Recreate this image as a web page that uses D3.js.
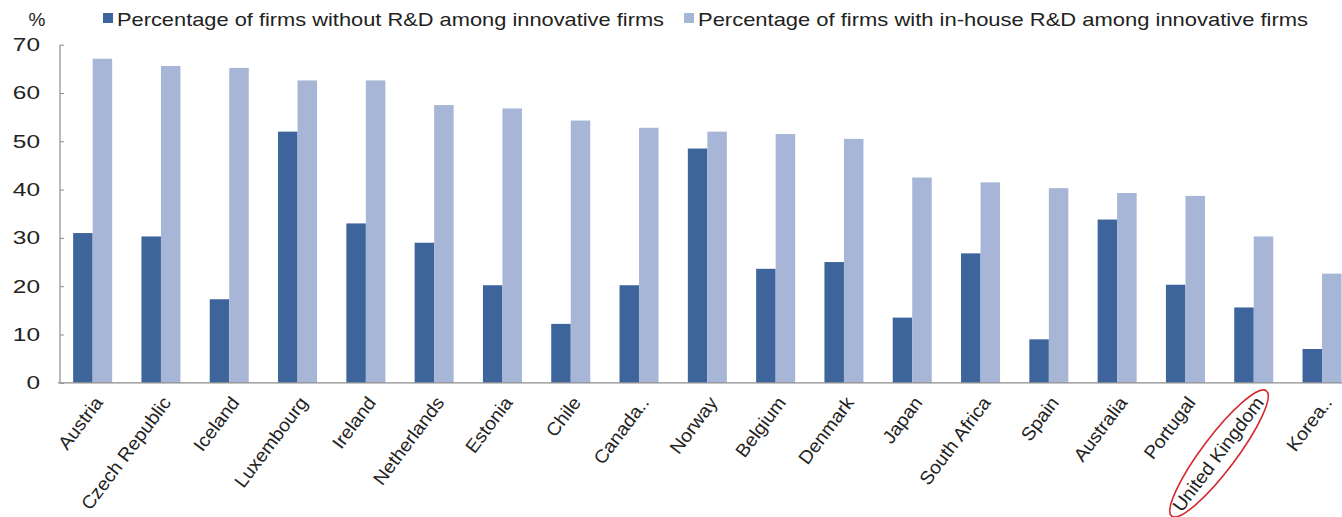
<!DOCTYPE html>
<html>
<head>
<meta charset="utf-8">
<script src="https://cdn.jsdelivr.net/npm/d3@7"></script>
<style>
  html, body { margin: 0; padding: 0; background: #fff; }
  svg { display: block; font-family: "Liberation Sans", Arial, sans-serif; }
</style>
</head>
<body>
<svg id="chart" width="1342" height="517"></svg>
<script>
// Innovative firms by R&D status, per country (%)
const categories = ["Austria", "Czech Republic", "Iceland", "Luxembourg", "Ireland", "Netherlands",
  "Estonia", "Chile", "Canada..", "Norway", "Belgium", "Denmark", "Japan", "South Africa",
  "Spain", "Australia", "Portugal", "United Kingdom", "Korea.."];
const withoutRD = [31.0, 30.3, 17.3, 52.0, 33.0, 29.0, 20.2, 12.2, 20.2, 48.5, 23.6, 25.0,
  13.5, 26.8, 9.0, 33.8, 20.3, 15.6, 7.0];
const inHouseRD = [67.1, 65.6, 65.2, 62.6, 62.6, 57.5, 56.8, 54.3, 52.8, 52.0, 51.5, 50.5,
  42.5, 41.5, 40.3, 39.3, 38.7, 30.3, 22.6];
const seriesNames = ["Percentage of firms without R&D among innovative firms",
  "Percentage of firms with in-house R&D among innovative firms"];
const yTicks = [0, 10, 20, 30, 40, 50, 60, 70];
const highlighted = "United Kingdom";

const colors = ["#3d659c", "#a7b6d7"];
const svg = d3.select("#chart");

const axisX = 60, baseY = 382.8, topY = 44.7, step = 68.3;
const x0 = d3.scaleBand().domain(categories)
  .range([58.5, 58.5 + step * categories.length]).padding(0);
const x1 = d3.scaleBand().domain([0, 1])
  .range([0, x0.bandwidth()]).paddingInner(0).paddingOuter(0.75);
const y = d3.scaleLinear().domain([0, 70]).range([baseY, topY]);

const rows = categories.map((c, i) => ({ c, v: [withoutRD[i], inHouseRD[i]] }));

// bars
const groups = svg.append("g").selectAll("g").data(rows).join("g")
  .attr("transform", d => `translate(${x0(d.c)},0)`);
groups.selectAll("rect").data(d => d.v.map((v, k) => ({ v, k }))).join("rect")
  .attr("x", d => x1(d.k))
  .attr("width", x1.bandwidth())
  .attr("y", d => y(d.v))
  .attr("height", d => y(0) - y(d.v))
  .attr("fill", d => colors[d.k]);

// y axis (ticks pointing into the plot)
const yAxis = svg.append("g").attr("transform", `translate(${axisX},0)`)
  .call(d3.axisLeft(y).tickValues(yTicks).tickSizeInner(-4).tickSizeOuter(0).tickPadding(21));
yAxis.select(".domain").attr("stroke", "#8c8c8c").attr("stroke-width", 1.2)
  .attr("d", `M0,${topY}V${baseY}`);
yAxis.selectAll(".tick line").attr("stroke", "#8c8c8c");
yAxis.selectAll(".tick text")
  .attr("font-size", 18.5).attr("fill", "#222")
  .attr("x", -20 / 1.32)
  .attr("transform", "scale(1.32,1)");

// x axis baseline
svg.append("line")
  .attr("x1", axisX - 2).attr("x2", 1342)
  .attr("y1", baseY).attr("y2", baseY)
  .attr("stroke", "#8c8c8c").attr("stroke-width", 1.2);

// category labels, rotated and slightly widened
const labelTransform = "translate(11,20) rotate(-53) scale(1.05,1)";
const xAxis = svg.append("g").attr("transform", `translate(0,${baseY})`)
  .call(d3.axisBottom(x0).tickSize(0).tickSizeOuter(0));
xAxis.select(".domain").remove();
const ticks = xAxis.selectAll(".tick");
ticks.select("text")
  .attr("x", 0).attr("y", 0).attr("dy", null)
  .attr("text-anchor", "end")
  .attr("font-size", 18.5).attr("fill", "#222")
  .attr("transform", labelTransform);

// ring around the highlighted country
ticks.filter(d => d === highlighted).each(function () {
  const t = d3.select(this).select("text");
  const L = t.node().getComputedTextLength();
  d3.select(this).append("ellipse")
    .attr("transform", labelTransform)
    .attr("cx", -L / 2 + 1).attr("cy", -6)
    .attr("rx", L / 2 + 9).attr("ry", 17)
    .attr("fill", "none").attr("stroke", "#d42a2f").attr("stroke-width", 1.6);
});

// unit label
svg.append("text").attr("x", 37).attr("y", 26).attr("text-anchor", "middle")
  .attr("font-size", 19).attr("fill", "#222").text("%");

// legend
const legendPos = [{ sx: 103, tx: 117, len: 547 }, { sx: 684, tx: 698, len: 610 }];
seriesNames.forEach((name, k) => {
  const p = legendPos[k];
  svg.append("rect").attr("x", p.sx).attr("y", 13).attr("width", 10).attr("height", 10)
    .attr("fill", colors[k]);
  svg.append("text").attr("x", p.tx).attr("y", 26)
    .attr("font-size", 18.5).attr("fill", "#222")
    .attr("textLength", p.len).attr("lengthAdjust", "spacingAndGlyphs")
    .text(name);
});
</script>
</body>
</html>
